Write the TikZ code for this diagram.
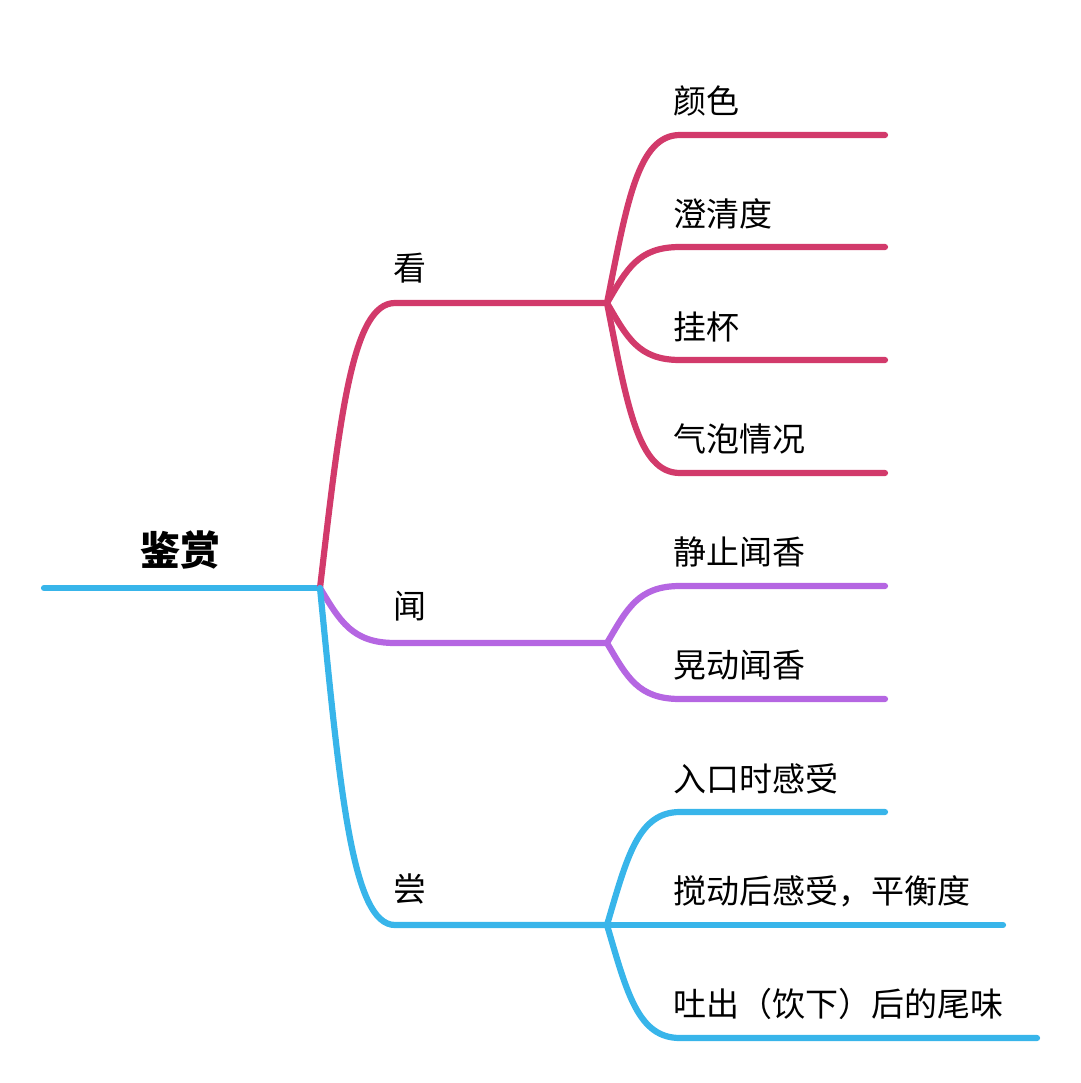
\documentclass[tikz,border=0pt]{standalone}
\usepackage{fontspec}
\setmainfont{Noto Sans CJK SC}
\definecolor{cred}{HTML}{D23A6B}
\definecolor{cpurple}{HTML}{B566E2}
\definecolor{cblue}{HTML}{38B5EA}
\begin{document}
\begin{tikzpicture}[x=1pt,y=-1pt,
  branch/.style={line width=6.2pt,line cap=round,line join=round},
  lbl/.style={anchor=west,inner sep=0pt,font=\fontsize{33}{37}\selectfont},
  rootlbl/.style={inner sep=0pt,font=\fontsize{40}{46}\selectfont\bfseries}]
\useasboundingbox (0,0) rectangle (1080,1083);
% coordinates
\coordinate (rs) at (44,588);
\coordinate (hub) at (320,588);
\coordinate (kanC) at (395,303);
\coordinate (kanE) at (607,303);
\coordinate (wenC) at (395,643);
\coordinate (wenE) at (607,643);
\coordinate (changC) at (395,925);
\coordinate (changE) at (607,925);
% leaves
\coordinate (k1c) at (680,135); \coordinate (k1e) at (885,135);
\coordinate (k2c) at (680,247); \coordinate (k2e) at (885,247);
\coordinate (k3c) at (680,360); \coordinate (k3e) at (885,360);
\coordinate (k4c) at (680,473); \coordinate (k4e) at (885,473);
\coordinate (w1c) at (680,586); \coordinate (w1e) at (885,586);
\coordinate (w2c) at (680,699); \coordinate (w2e) at (885,699);
\coordinate (c1c) at (680,812); \coordinate (c1e) at (885,812);
\coordinate (c2e) at (1003,925);
\coordinate (c3c) at (680,1038); \coordinate (c3e) at (1037,1038);
% root
\draw[branch,cblue] (rs) -- (hub);
\node[rootlbl] (root) at (180,550) {鉴赏};
% main branches
\draw[branch,cred] (hub) .. controls (340,417) and (352,303) .. (kanC) -- (kanE);
\draw[branch,cpurple] (hub) .. controls (340,621) and (352,643) .. (wenC) -- (wenE);
\draw[branch,cblue] (hub) .. controls (340,790) and (352,925) .. (changC) -- (changE);
\node[lbl] (kan) at (393,268) {看};
\node[lbl] (wen) at (393,606) {闻};
\node[lbl] (chang) at (393,889) {尝};
% 看 children
\draw[branch,cred] (kanE) .. controls (627,202) and (638,135) .. (k1c) -- (k1e);
\draw[branch,cred] (kanE) .. controls (627,269) and (638,247) .. (k2c) -- (k2e);
\draw[branch,cred] (kanE) .. controls (627,337) and (638,360) .. (k3c) -- (k3e);
\draw[branch,cred] (kanE) .. controls (627,405) and (638,473) .. (k4c) -- (k4e);
\node[lbl] (k1) at (673,101) {颜色};
\node[lbl] (k2) at (673,214) {澄清度};
\node[lbl] (k3) at (673,327) {挂杯};
\node[lbl] (k4) at (673,439) {气泡情况};
% 闻 children
\draw[branch,cpurple] (wenE) .. controls (627,609) and (638,586) .. (w1c) -- (w1e);
\draw[branch,cpurple] (wenE) .. controls (627,677) and (638,699) .. (w2c) -- (w2e);
\node[lbl] (w1) at (673,552) {静止闻香};
\node[lbl] (w2) at (673,665) {晃动闻香};
% 尝 children
\draw[branch,cblue] (changE) .. controls (627,857) and (638,812) .. (c1c) -- (c1e);
\draw[branch,cblue] (changE) -- (c2e);
\draw[branch,cblue] (changE) .. controls (627,993) and (638,1038) .. (c3c) -- (c3e);
\node[lbl] (c1) at (673,779) {入口时感受};
\node[lbl] (c2) at (673,891) {搅动后感受，平衡度};
\node[lbl] (c3) at (673,1004) {吐出（饮下）后的尾味};
\end{tikzpicture}
\end{document}
